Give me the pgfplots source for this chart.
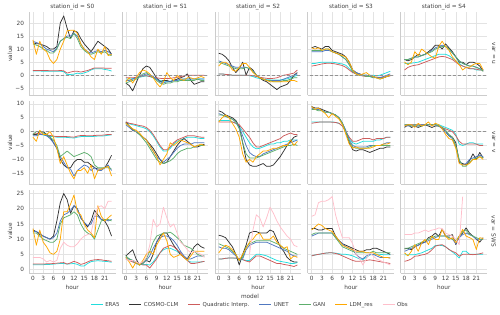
\documentclass[border=0pt]{standalone}
\usepackage{fontspec}
\setmainfont{DejaVu Sans}
\usepackage{pgfplots}
\usepackage{pgfplotstable}
\pgfplotsset{compat=1.18}
\definecolor{cera}{HTML}{22DDDD}
\definecolor{ccosmo}{HTML}{333333}
\definecolor{cquad}{HTML}{CD5C5C}
\definecolor{cunet}{HTML}{5078C0}
\definecolor{cgan}{HTML}{5DAE6C}
\definecolor{cldm}{HTML}{FFA800}
\definecolor{cobs}{HTML}{FFBFCB}
\definecolor{gridc}{HTML}{E3E3E3}
\definecolor{txt}{HTML}{404040}

% ---------- var = u ----------
\pgfplotstableread{
h era cosmo quad unet gan ldm
0 1.6 12.5 1.8 13 12 13.5
1 1.6 12 1.8 12.5 11.5 8
2 1.6 12 1.8 12 11 13
3 1.5 11.5 1.8 11 10 10
4 1.5 11 1.8 10 9.5 9
5 1.5 10 1.7 9.5 8.5 6
6 1.5 10 1.7 9 8.5 4.5
7 1.5 11 1.7 10.5 10 6
8 1.5 20 1.8 13 13 10
9 1.4 22.7 1.7 14 14 13
10 0.2 18 0.8 15 14.5 17
11 0.3 14 1.2 15 14 17.2
12 0.4 17 1.5 16 16 17.2
13 0.8 16.5 1.5 15 14 16
14 0.5 14 1.2 12 11 12
15 0.9 12 1.5 10 9.5 10
16 1.3 10.5 1.8 9 8.5 9
17 2.0 9 2.3 8.5 8 7
18 2.5 11 2.8 9 8.5 6
19 2.5 13 2.8 9.5 9 10
20 2.5 12 2.8 9 8.5 8
21 2.2 11 2.7 9.5 9 11
22 2 10 2.7 9 8 7.5
23 1.6 8 2.7 8 7.5 8
}\tAu
\pgfplotstableread{
h era cosmo quad unet gan ldm
0 -1.5 -3 -1 -2 -3 -2.5
1 -1.5 -4 -1 -2 -2.5 -1
2 -1.3 -6 -1 -1.5 -2 -3
3 -1 -3 -0.8 -1 -1.5 -1
4 -0.8 0 -0.5 -0.5 -0.5 1
5 -0.5 2.5 -0.3 0 0.5 2
6 -0.3 3.5 -0.2 0.5 1 1.5
7 -0.5 3 -0.5 0 0 0.5
8 -1 1 -0.8 -0.5 -1 -1
9 -1.5 -1 -1 -1.5 -2 -3
10 -2 -2.5 -1.2 -2.5 -3 -4.5
11 -2.5 -2 -1.3 -3 -3.5 -2.5
12 -2.5 -2 -1.3 -2.5 -3 1
13 -2.3 -2.5 -1.2 -2.5 -3 -1
14 -2 -2 -1 -2 -2.5 -2
15 -2 -1.5 -0.8 -2 -2.5 0
16 -1.8 -1 -0.5 -1.5 -2 -1.5
17 -1.5 -0.5 -0.3 -1.5 -2 -2
18 -1.5 0.5 0 -1.5 -2 -1
19 -1.5 -2 0 -1.5 -2 -1
20 -1.5 -3.5 0 -1.5 -2 -1.5
21 -1.5 -3 0 -1.5 -1.5 -1
22 -1.5 -2.5 0 -1.5 -2 -0.5
23 -1.5 -2.5 0 -1.5 -2 -1
}\tBu
\pgfplotstableread{
h era cosmo quad unet gan ldm
0 0.5 8.4 0.5 5.5 5 3.5
1 0.5 8 0.5 5 4.5 5
2 0.3 7 0.3 4.5 4 5
3 0.2 5.5 0.2 4 3.5 4
4 0 3 0 3.5 3 2
5 0 1 0 3 2.5 1.5
6 0 2.5 0 3 2.5 3
7 0 5 0 3 2.5 4.5
8 0 0 0 3 3 4.5
9 -0.2 3 0 2.5 2.5 3
10 -0.5 2 -0.2 1.5 1.5 1
11 -1 0 -0.5 0 0 0
12 -1.3 -1 -0.8 -1 -1 -1
13 -1.5 -2 -1 -1.5 -1.5 -1.5
14 -1.7 -2.5 -1.2 -2 -2 -2
15 -1.8 -3.5 -1.3 -2 -2 -2.5
16 -1.8 -4.5 -1.2 -2 -2.5 -2.5
17 -1.8 -5.5 -1 -2 -2.5 -2.5
18 -1.8 -4.5 -0.5 -2 -2.5 -2.5
19 -1.6 -4 0 -1.5 -2 -2.5
20 -1.4 -3.5 0.2 -1 -2 -2.5
21 -1 -2 0.5 -0.5 -1.5 -2
22 -0.5 0 0.8 0 -1 -2
23 0 1 2 0.5 -1 -2.5
}\tCu
\pgfplotstableread{
h era cosmo quad unet gan ldm
0 4.5 10.5 3.5 9 9.5 10.5
1 4.5 11 3.7 9 9.5 10
2 4.8 10.5 4 9 9.5 10.5
3 5 10 4.3 9 9.5 9.5
4 5 11 4.5 9.5 10 10
5 5 11 4.6 9.5 10 10
6 5 9.5 4.5 9 9 9
7 4.8 9 4.3 8.5 8.5 8.5
8 4.5 8.5 4 8 8 8
9 4.3 8 3.7 7 7 7.5
10 3.8 7 3 6 6 7
11 2.5 5 2 4 4 5
12 1.3 2 1 2 1.5 2
13 0.5 1 0.5 1 0.5 0.5
14 0 0.5 0 0.5 0 0
15 -0.2 0 -0.3 0 0 0.5
16 0 0 -0.5 0 -0.5 1
17 0 -0.5 -0.5 -0.5 -0.5 0
18 0 -0.5 -0.7 -0.5 -1 -0.5
19 -0.3 -1 -0.8 -1 -1 -1
20 0 -1 -0.8 -1 -1.5 -1.5
21 0.5 -1 -0.7 -0.5 -1 -1
22 1 -0.5 -0.5 0 -0.5 -0.5
23 1.5 0 -0.3 0.5 0 0
}\tDu
\pgfplotstableread{
h era cosmo quad unet gan ldm
0 4.5 6 2 6 6 5
1 4.5 5.5 3 6 6 4
2 4.6 6 3.5 6.5 6.5 5
3 4.8 7 3.8 7 7 9
4 5 8 4 7 7 7.5
5 5.5 7.5 4.5 7.5 7.5 10
6 6 8 5 8 8 9
7 6.5 9 5.5 8.5 8.5 8
8 7 10 6 9.5 9 7
9 7.5 11.5 6.5 10.5 10 6.5
10 8 11.5 7 11 10.5 11
11 8 10 7.2 11.5 11 13
12 8 12 7 11 11 11
13 7.5 10.5 6.5 10 10 9.5
14 6.5 9 6 8.5 8.5 7
15 5.5 7 5 7 7 5.5
16 4.5 5 4 5.5 5.5 4
17 3.5 5 3.5 4.5 4.5 2
18 3 4 3 4 4 3
19 2.5 5 2.5 3.5 3.5 3
20 2.5 5 2.5 3.5 3.5 4
21 2 4.5 2.3 3 3 4.5
22 2 3.5 2 2.5 2.5 4.5
23 2 1.5 2 2 1.5 2
}\tEu
% ---------- var = v ----------
\pgfplotstableread{
h era cosmo quad unet gan ldm
0 -1 -1 -0.8 -1.5 -1 -2
1 -1 -1 -0.8 -1.5 0 -3.5
2 -1 0 -0.7 -1 0 0.5
3 -1.2 0 -1 -1 -0.5 -1
4 -1.5 -1 -1.2 -1.5 -1 -1
5 -1.7 -2 -1.4 -2.5 -2 0
6 -1.8 -4 -1.6 -4 -3 -2
7 -2 -6 -1.8 -6 -5 -6
8 -2 -10 -1.8 -9 -9 -11.5
9 -2 -12 -1.8 -11 -8 -9
10 -2.1 -13 -1.8 -13 -7 -12
11 -2.2 -13 -1.9 -13.5 -8 -15
12 -2.3 -11 -2 -16 -9 -17
13 -2 -10 -1.6 -14 -8.5 -14
14 -1.8 -10 -1.4 -13 -8 -14
15 -1.8 -11 -1.4 -12 -7.5 -13
16 -1.8 -11 -1.5 -12.5 -8 -15
17 -1.8 -12 -1.5 -14 -9 -12
18 -1.7 -13 -1.4 -13 -12 -17
19 -1.6 -13.5 -1.3 -14 -13 -14
20 -1.6 -13.5 -1.3 -14 -13 -13.5
21 -1.5 -13 -1.2 -13 -13 -13
22 -1.3 -11 -1 -12 -13 -12.5
23 -1.2 -8.5 -1 -14 -13.5 -16
}\tAv
\pgfplotstableread{
h era cosmo quad unet gan ldm
0 3.3 3.5 3.5 2.5 3 3
1 2.8 2 3 1.5 2 2
2 2.5 0.5 2.8 0.5 1 1
3 2.2 0 2.5 0 0 0.5
4 1.8 -1 2.2 -1 -1 -0.5
5 1.5 -2 2 -2 -2.5 -2
6 1 -3 1.5 -3 -4 -3
7 0 -4.5 0.5 -5 -6 -5
8 -1.5 -6 -1 -7 -8 -7
9 -3.5 -8 -3 -9 -10 -9
10 -5.5 -10 -5 -10 -11 -12
11 -7 -11.5 -6.5 -11 -11.5 -10
12 -7 -11 -6.5 -10 -11 -8
13 -6 -9 -5.5 -9 -10.5 -4
14 -4.5 -7 -4 -7.5 -9.5 -5
15 -3.5 -5 -3 -6 -8 -4
16 -3 -3.5 -2.5 -5 -7 -3
17 -2.5 -2.5 -2 -4.5 -6.5 -3.5
18 -2 -3.5 -1.5 -4.5 -6 -4
19 -2 -4.5 -1.5 -4.5 -6 -4.5
20 -2 -5.5 -1.5 -4 -5.5 -5.5
21 -2.3 -5.5 -1.8 -4 -5 -5
22 -2.5 -5 -2 -4 -5 -4.5
23 -2.5 -4.5 -2 -4 -5 -5
}\tBv
\pgfplotstableread{
h era cosmo quad unet gan ldm
0 4 7.5 3.5 6.5 6 3.5
1 4 7 3.5 6 6 5
2 4 6 3.5 5.5 5.5 6
3 4 5.5 3.5 5 5 5
4 3.5 5 3.5 4.5 4.5 3
5 3 4 3 3.5 3.5 1
6 2 2 2.5 1.5 1 -2
7 0 -4 1 -1.5 -4 -8
8 -2 -10 -0.5 -5 -8 -11
9 -4 -12 -2 -7.5 -9.5 -10
10 -5.5 -12.5 -4 -8.5 -9.5 -11
11 -6.2 -12.5 -5.5 -9 -9.5 -9
12 -6 -12 -5.5 -9 -9 -8
13 -5.5 -11.5 -5 -8 -8.5 -7
14 -5 -12.5 -4.5 -7.5 -8 -7
15 -4.5 -12.5 -4 -7 -7.5 -6.5
16 -4.5 -12 -3.5 -6.5 -7 -6
17 -4 -10.5 -3 -6 -6.5 -6
18 -4 -9 -2.5 -5.5 -6 -5.5
19 -3.5 -7 -1.5 -5 -5.5 -5
20 -3.5 -5 -1 -4.5 -5 -5
21 -3 -3.5 -0.5 -4 -5 -3
22 -3 -2 -1 -3.5 -4.5 -5
23 -3 -1.5 -1 -3 -5 -3.5
}\tCv
\pgfplotstableread{
h era cosmo quad unet gan ldm
0 3.5 9 3 8.5 8 9
1 3.5 8.5 3.2 8 8 8
2 3.5 8.5 3.4 8 7.5 8.5
3 3.5 8 3.5 7.5 7.5 7.5
4 3.5 7.5 3.5 7 7 6.5
5 3.5 7 3.5 7 7 5
6 3.5 6.5 3.4 6.5 6.5 6.5
7 3.3 6 3.3 6 6 5.5
8 3 5 3 5 5 4.5
9 2 3 2 3 3 2.5
10 0 0 0 0.5 0 -1
11 -2.5 -4 -2 -3 -3.5 -4.5
12 -4 -6.5 -3.5 -5 -5.5 -6
13 -4.5 -7 -3.5 -5.5 -6 -5.5
14 -4 -6.5 -3 -5.5 -6 -6
15 -3.5 -6.5 -2.5 -5.5 -6 -6
16 -3.5 -7 -2.5 -5.5 -6 -6
17 -3.5 -7.5 -2.5 -5 -5.5 -6
18 -3.5 -7 -3 -5 -5 -5.5
19 -3 -6.5 -2.5 -5 -5 -5
20 -3 -6 -2.5 -5 -5 -5
21 -2.5 -6 -2.5 -4.5 -5 -4.5
22 -2 -5.5 -2 -4 -5 -4.5
23 -2 -5.5 -2 -4 -5 -4
}\tDv
\pgfplotstableread{
h era cosmo quad unet gan ldm
0 2.5 1.5 2.5 2 2.5 2
1 2.5 2.5 2.5 2 2.5 2.5
2 2.5 1.5 2.5 2 2 2.5
3 2.5 2 2.5 2 2.5 1.5
4 2.5 1.5 2.5 2 2 3
5 2.5 2 2.5 2.5 2 2
6 2.5 2.5 2.5 2.5 2.5 2.5
7 2.5 2 2.5 2.5 2.5 3.5
8 2.5 1.5 2.5 2.5 2.5 2
9 2.5 2 2.5 2.5 2.5 3
10 2.5 2 2 2 2 2.5
11 2 1.5 1.5 1 1.5 1
12 1.5 0 1 0 0.5 -1
13 1 -1.5 0.5 -1.5 -1 -2.5
14 0.5 -2 0 -2.5 -2 -3
15 -1 -4 -1.5 -5.5 -5 -6
16 -4.5 -11 -3.5 -10.5 -10 -11.5
17 -5 -11.5 -4.5 -12 -12.5 -12
18 -4.5 -12 -4.5 -11.5 -12.5 -12
19 -4 -10.5 -4.5 -10 -11 -11.5
20 -4 -8 -4.5 -9.5 -10 -10
21 -4.5 -10 -4.5 -9 -9.5 -10
22 -4.5 -7.5 -5 -8.5 -9 -9
23 -4.5 -9.5 -5 -9 -9.5 -10
}\tEv
% ---------- var = SWS ----------
\pgfplotstableread{
h era cosmo quad unet gan ldm obs
0 1.6 13 1.8 12.5 12 13.5 4
1 1.6 12.5 1.8 12.5 12 8 4
2 1.6 11.5 1.8 12 11 13 4
3 1.6 11 1.8 11 10 9 3.5
4 1.7 10.5 1.9 10.5 9.5 7.5 2.5
5 1.7 10 1.9 10 9 5.5 3
6 1.8 11 2 10.5 9 5 2.5
7 1.9 16 2.1 12 10 6 3
8 2 22 2.2 16 15 10 7
9 2 25 2.3 18 17 19 9
10 1.8 23 1.8 18.5 17.5 19 8
11 1.9 18.5 2.2 19.5 18 21.5 7.5
12 2 21 2.7 21 19 24.5 7.5
13 1.7 20 2.3 20 18 19 8.5
14 1.2 17 1.7 17 15 18 10
15 1.2 15.5 2 15.5 13 15 11
16 2 14 2.5 14.5 12 13 11.5
17 2.6 16 3 15 11.5 12 12
18 2.8 19.5 3.2 17.5 10 10.5 17
19 2.9 18 3.3 17.5 13 21 20.5
20 2.8 16.5 3.2 16.5 16 17.5 21
21 2.7 16 3 16.5 16.5 16 20
22 2.6 14 2.9 16 16.5 17 22.5
23 2.4 11 2.7 16.5 16 18 22.5
}\tAs
\pgfplotstableread{
h era cosmo quad unet gan ldm obs
0 3.8 4.5 3.5 4 4.5 4 3.5
1 3.3 5.5 3 3.5 3.5 2.5 3
2 2.8 6.5 2.5 3 3 0.5 3
3 2.3 3.5 2 2.5 2 2.5 2.5
4 2 1.5 2 1.5 1.5 1.5 2
5 1.7 2.5 1.5 2 2 3 2.5
6 1.7 3 1.5 3 3.5 5 4
7 1.5 2.5 0.5 4.5 6 6 8
8 2.5 5 2 7 9 5 16.5
9 4 9 3.5 9 11 8 14
10 5.5 11 5.5 10.5 11.5 10 15
11 6.5 12 7 11 12 12 20.5
12 7 12 7.5 11 12 9.5 17
13 7 10 8 10.5 12.3 5 14
14 6.5 8 7.5 9.5 11.5 4 15
15 6 6.5 6.5 8 10.5 4.5 12
16 5 5 5.5 6 9.5 5 9
17 4 4 4 4.5 8 4 8
18 3 3.5 3 3.5 7.5 3 6.5
19 2.5 5.5 2 3.5 7 4.5 5.5
20 2.5 7.5 2 4 6 6 6
21 2.5 8.5 2.2 4.5 5 6 5.5
22 2.5 7.5 2.5 4.5 4.5 6 5
23 2.7 7 2.7 4.5 4.5 6 4
}\tBs
\pgfplotstableread{
h era cosmo quad unet gan ldm obs
0 3.5 11.3 3.5 7.5 8.5 5.5 nan
1 3.5 11 3.5 7 8 7 nan
2 3.7 10.5 3.7 7 7.5 8 nan
3 3.8 9 3.8 6.5 7 7.5 nan
4 3.8 7.5 3.8 5.5 6 6.5 nan
5 3.7 5 3.8 4.5 5 5 nan
6 3.5 1.5 3.6 3 3 3 nan
7 3.2 5 3.3 3.5 4 5 nan
8 3 8 2.8 6.5 7.5 7 nan
9 3 12 2.5 8 8.5 9 5
10 4 12.5 3.5 8.5 9 10 13
11 5 12.5 4.5 9 9.5 11.5 18
12 5 12 4.5 9 9.5 12 17
13 4.8 12 4 9 9.5 10 14
14 4.5 12 3.5 9 9.5 10 17
15 4 13 3 8.5 9.5 10 20.5
16 3.5 12.5 2.5 8 9 11 18.5
17 3 10 2 7.5 8.5 9 16
18 2.7 7.5 2 7 8 8 14
19 2.5 6 1.7 6.5 7 7 12.5
20 2.3 4 1.5 6 6.5 7.5 11
21 2 3 1.3 5 6 3.5 10
22 2 2.5 1 4.5 5.5 4.5 8
23 2.3 2.5 1.5 4.5 5 4 7.5
}\tCs
\pgfplotstableread{
h era cosmo quad unet gan ldm obs
0 4.5 13.5 4.5 11 11.5 13 17.5
1 4.8 13.5 4.8 11.5 12 14 18
2 5 13 5 12 12 15 22
3 5.2 13 5.2 12 12 14.5 22.5
4 5.4 13.5 5.4 12 12 13.5 22.5
5 5.5 13.5 5.5 12 12 13 23
6 5.5 13.5 5.5 12 12 12.5 24
7 5.4 11 5.3 10.5 10.5 11 18
8 5.2 9.5 5 9.5 9 9.5 14
9 5 8.5 4.5 8.5 7.5 8 10.5
10 5 8 4 7.5 7 7.5 10.5
11 4.8 7.5 3.5 7 6.5 7 10.5
12 4.5 7 3 6.5 6 6.5 8.5
13 4 6.5 2.7 5 5.5 6 5
14 3.5 6 2.7 4 5.5 6 3.5
15 3.3 6 2.8 3.5 5.5 6 1.5
16 4 6.5 3 4.5 5.5 5.5 3.5
17 4.8 6.5 3.2 5 5.5 5.5 5.5
18 5 7 3 5 6 5.5 4.5
19 5 7 2.8 4.5 5.5 5 3.5
20 5 6.5 2.6 4 5.5 4.5 3
21 4.9 6 2.4 4 5.5 4 2.5
22 4.9 5.5 2.2 4 5.5 4 2
23 4.9 5 2 3.8 5.5 3.8 1.5
}\tDs
\pgfplotstableread{
h era cosmo quad unet gan ldm obs
0 4.9 6.8 2.7 6 7 5.5 11.5
1 4.9 7 3 6.5 7 4.5 11.5
2 4.9 6.5 3.5 7 7.5 6 11.5
3 4.9 7.5 4.4 7.5 8 8.2 12
4 5.2 8 4.5 8 8.5 6 12
5 5.5 8.8 4.8 8.5 9 8.8 12.5
6 6 9 5 9 9.5 9.9 13
7 6.5 10.5 5.5 9.5 10 8.2 12.5
8 7 11 6.5 10 10.5 11 13
9 7.9 12 7.7 10.5 11 9.9 13.2
10 8 11 8 11 11 9.9 13.7
11 7.9 13.2 8.2 11 11 13.2 13.5
12 7.5 11 7.5 11 11 11 12
13 6.6 11 6.6 10.5 10.5 9.9 11.5
14 5.8 11.5 6 10 10 10.5 11
15 4.9 8.2 5.5 8.5 9.5 8.8 10
16 3.8 11 4.4 10.5 11 11 8.2
17 6 12 5 11.5 12.5 13.2 24
18 6 13.7 5 12 13 11 nan
19 5 12 5 11.5 11.5 10.5 nan
20 5 11 4.9 11 11 9.9 nan
21 5 10 5 10 10.5 6.6 nan
22 5 9 5.2 10 10 10.5 nan
23 5 10.5 5.5 10 10 10.2 nan
}\tEs

\pgfplotsset{
  panel/.style={
    scale only axis, width=86.5bp, height=83.3bp, anchor=north west,
    xmin=-1.15, xmax=24.15, xtick={0,3,...,21},
    xticklabels={}, yticklabels={},
    grid=major, major grid style={color=gridc, line width=0.6bp},
    axis x line*=bottom, axis y line*=left,
    axis line style={color=gridc!90!black, line width=0.6bp},
    tick style={draw=none},
    ticklabel style={font=\fontsize{5.8}{6.5}\selectfont, color=txt},
    yticklabel style={xshift=-1.5bp},
    label style={font=\fontsize{5.8}{6.5}\selectfont, color=txt},
    every axis title shift=0pt,
    title style={font=\fontsize{5.8}{6.5}\selectfont, color=txt, at={(0.5,1)}, anchor=base, yshift=4bp},
    ylabel style={at={([xshift=-19bp]axis description cs:0,0.5)}, anchor=center},
    xlabel style={at={([yshift=-14.5bp]axis description cs:0.5,0)}, anchor=center},
    unbounded coords=jump, clip mode=individual,
  },
  rowu/.style={ymin=-7.7, ymax=24.2, ytick={-5,0,...,20}},
  rowv/.style={ymin=-18.9, ymax=11.1, ytick={-15,-10,...,10}},
  rows/.style={ymin=-1.1, ymax=26.3, ytick={0,5,...,25}},
  ln/.style={line width=0.75bp, line join=round, forget plot},
}
\tikzset{rowlab/.style={rotate=-90, anchor=center, font=\fontsize{5.8}{6.5}\selectfont, text=txt}}

\newcommand\zeroline{\addplot[forget plot, color=gray!85, dash pattern=on 3bp off 2bp, line width=0.9bp] coordinates {(-2,0) (25,0)};}
\newcommand\panel[5]{%
\begin{axis}[panel, at={(#1)}, #3]
\addplot[ln, cera] table[x=h,y=era]{#2};
\addplot[ln, ccosmo] table[x=h,y=cosmo]{#2};
\addplot[ln, cquad] table[x=h,y=quad]{#2};
\addplot[ln, cunet] table[x=h,y=unet]{#2};
\addplot[ln, cgan] table[x=h,y=gan]{#2};
\addplot[ln, cldm] table[x=h,y=ldm]{#2};
#4
#5
\end{axis}}
\newcommand\obs[1]{\addplot[ln, cobs] table[x=h,y=obs]{#1};}

\begin{document}
\begin{tikzpicture}
\useasboundingbox (0,0) rectangle (500bp,-315bp);
% row u
\panel{29bp,-12bp}{\tAu}{rowu, ylabel={value}, yticklabels={−5,0,5,10,15,20}, title={station\_id = S0}}{}{\zeroline}
\panel{121.9bp,-12bp}{\tBu}{rowu, title={station\_id = S1}}{}{\zeroline}
\panel{214.8bp,-12bp}{\tCu}{rowu, title={station\_id = S2}}{}{\zeroline}
\panel{307.7bp,-12bp}{\tDu}{rowu, title={station\_id = S3}}{}{\zeroline}
\panel{400.6bp,-12bp}{\tEu}{rowu, title={station\_id = S4}}{}{\zeroline \node[rowlab] at ([xshift=6.5bp]rel axis cs:1,0.5) {var = u};}
% row v
\panel{29bp,-100.8bp}{\tAv}{rowv, ylabel={value}, yticklabels={−15,−10,−5,0,5,10}}{}{\zeroline}
\panel{121.9bp,-100.8bp}{\tBv}{rowv}{}{\zeroline}
\panel{214.8bp,-100.8bp}{\tCv}{rowv}{}{\zeroline}
\panel{307.7bp,-100.8bp}{\tDv}{rowv}{}{\zeroline}
\panel{400.6bp,-100.8bp}{\tEv}{rowv}{}{\zeroline \node[rowlab] at ([xshift=6.5bp]rel axis cs:1,0.5) {var = v};}
% row SWS
\panel{29bp,-189.6bp}{\tAs}{rows, ylabel={value}, yticklabels={0,5,10,15,20,25}, xlabel={hour}, xticklabels={0,3,6,9,12,15,18,21}}{\obs{\tAs}}{}
\panel{121.9bp,-189.6bp}{\tBs}{rows, xlabel={hour}, xticklabels={0,3,6,9,12,15,18,21}}{\obs{\tBs}}{}
\panel{214.8bp,-189.6bp}{\tCs}{rows, xlabel={hour}, xticklabels={0,3,6,9,12,15,18,21},
  legend columns=7,
  legend style={draw=none, fill=none, at={(0.5,0)}, anchor=center, xshift=-8bp, yshift=-32bp,
    font=\fontsize{5.5}{6}\selectfont, text=txt,
    /tikz/every even column/.append style={column sep=7.5bp}},
  legend image code/.code={\draw[#1, line width=0.9bp] (0bp,0bp) -- (12bp,0bp);}}
  {\obs{\tCs}}
  {\addlegendimage{cera}\addlegendimage{ccosmo}\addlegendimage{cquad}\addlegendimage{cunet}\addlegendimage{cgan}\addlegendimage{cldm}\addlegendimage{cobs}
   \legend{ERA5,COSMO-CLM,Quadratic Interp.,UNET,GAN,LDM\_res,Obs}
   \node[font=\fontsize{5.8}{6.5}\selectfont, text=txt] at ([xshift=-8bp, yshift=-23.8bp]rel axis cs:0.5,0) {model};}
\panel{307.7bp,-189.6bp}{\tDs}{rows, xlabel={hour}, xticklabels={0,3,6,9,12,15,18,21}}{\obs{\tDs}}{}
\panel{400.6bp,-189.6bp}{\tEs}{rows, xlabel={hour}, xticklabels={0,3,6,9,12,15,18,21}}{\obs{\tEs}}{\node[rowlab] at ([xshift=6.5bp]rel axis cs:1,0.5) {var = SWS};}
\end{tikzpicture}
\end{document}
